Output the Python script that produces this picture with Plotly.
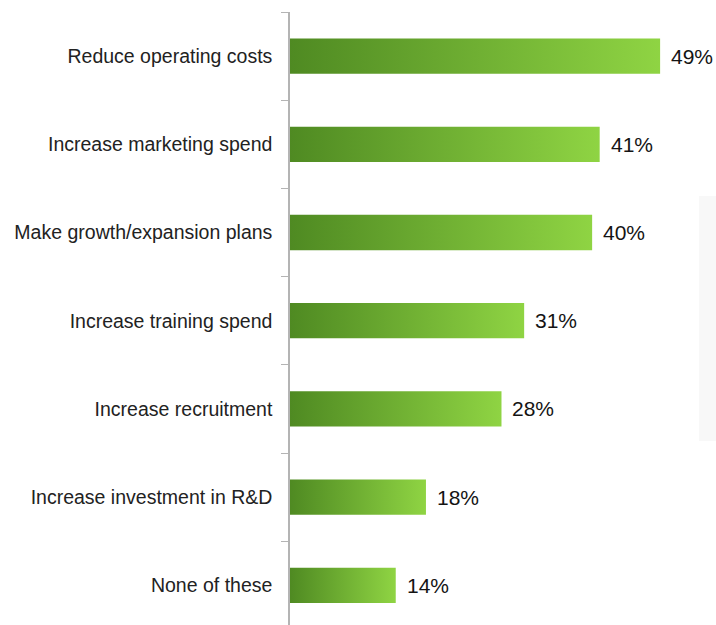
import plotly.graph_objects as go

# Survey responses: planned business actions
categories = [
    "Reduce operating costs",
    "Increase marketing spend",
    "Make growth/expansion plans",
    "Increase training spend",
    "Increase recruitment",
    "Increase investment in R&D",
    "None of these",
]
values = [49, 41, 40, 31, 28, 18, 14]
value_labels = ["49%", "41%", "40%", "31%", "28%", "18%", "14%"]

DARK_GREEN = "#4f8a22"
LIGHT_GREEN = "#8fd443"
HALF = 0.2  # half bar thickness in category units

fig = go.Figure()

positions = list(range(len(categories)))
for pos, val in zip(positions, values):
    fig.add_trace(go.Scatter(
        x=[0, val, val, 0, 0],
        y=[pos - HALF, pos - HALF, pos + HALF, pos + HALF, pos - HALF],
        mode="lines",
        fill="toself",
        fillgradient=dict(
            type="horizontal",
            colorscale=[[0, DARK_GREEN], [1, LIGHT_GREEN]],
        ),
        line=dict(width=0),
        hoverinfo="skip",
        showlegend=False,
    ))

for pos, val, lab in zip(positions, values, value_labels):
    fig.add_annotation(
        x=val, y=pos, text=lab, showarrow=False,
        xanchor="left", yanchor="middle", xshift=9,
        font=dict(family="Liberation Sans, Arial, sans-serif", size=21, color="#141414"),
    )

# faint grey strip along the right edge
fig.add_shape(type="rect", xref="paper", yref="paper",
              x0=0.96, x1=1.0, y0=0.30, y1=0.70,
              fillcolor="#f8f8f8", line=dict(width=0), layer="below")

fig.update_layout(
    width=716, height=625,
    margin=dict(l=290, r=0, t=12, b=0),
    paper_bgcolor="white", plot_bgcolor="white",
    xaxis=dict(range=[0, 56.4], visible=False, fixedrange=True),
    yaxis=dict(
        range=[6.45, -0.5],
        tickvals=positions,
        ticktext=categories,
        ticks="",
        showgrid=False,
        zeroline=False,
        showline=True,
        linecolor="#b4b4b4",
        linewidth=1.5,
        ticklabelstandoff=12,
        tickfont=dict(family="Liberation Sans, Arial, sans-serif", size=19.5, color="#222222"),
        minor=dict(
            tickvals=[p + 0.5 for p in positions[:-1]] + [-0.5],
            ticks="outside", ticklen=7, tickcolor="#b4b4b4", tickwidth=1,
            showgrid=False,
        ),
    ),
)

fig.write_html("out.html")
